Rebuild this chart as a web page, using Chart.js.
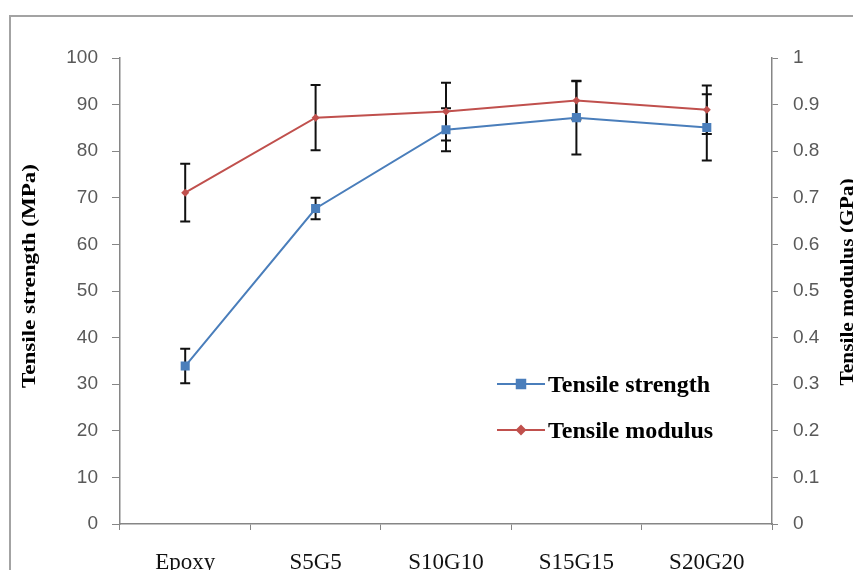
<!DOCTYPE html>
<html>
<head>
<meta charset="utf-8">
<script src="https://cdn.jsdelivr.net/npm/chart.js@4.4.1/dist/chart.umd.min.js"></script>
<style>
  html, body { margin: 0; padding: 0; background: #fff; overflow: hidden; width: 853px; height: 570px; }
  #wrap { position: absolute; left: 0; top: 0; width: 900px; height: 600px; }
  #frame { position: absolute; left: 9px; top: 15px; width: 1000px; height: 1000px;
           border-left: 2px solid #a3a3a3; border-top: 2px solid #a3a3a3; pointer-events: none; }
</style>
</head>
<body>
<div id="wrap"><canvas id="c" width="900" height="600"></canvas></div>
<div id="frame"></div>
<script>
// ---- data ----
const categories = ['Epoxy', 'S5G5', 'S10G10', 'S15G15', 'S20G20'];
const strength = [33.9, 67.7, 84.6, 87.2, 85.1];          // MPa
const strengthErr = [3.7, 2.3, 4.6, 7.9, 7.1];
const modulus = [0.711, 0.872, 0.885, 0.909, 0.889];      // GPa
const modulusErr = [0.062, 0.070, 0.062, 0.041, 0.052];
const leftTicks = [0, 10, 20, 30, 40, 50, 60, 70, 80, 90, 100];
const rightTickLabels = ['0', '0.1', '0.2', '0.3', '0.4', '0.5', '0.6', '0.7', '0.8', '0.9', '1'];
const seriesNames = ['Tensile strength', 'Tensile modulus'];
const axisTitles = ['Tensile strength (MPa)', 'Tensile modulus (GPa)'];

const BLUE = '#4a7ebb';
const RED = '#c0504d';
const AXIS = '#868686';

const errorBarPlugin = {
  id: 'errorBars',
  beforeDatasetsDraw(chart) {
    const ctx = chart.ctx;
    const x = chart.scales.x;
    const pairs = [
      { vals: strength, errs: strengthErr, scale: chart.scales.yS },
      { vals: modulus, errs: modulusErr, scale: chart.scales.yM }
    ];
    ctx.save();
    ctx.strokeStyle = '#111';
    ctx.lineWidth = 2;
    pairs.forEach(p => {
      p.vals.forEach((v, i) => {
        const px = x.getPixelForValue(i);
        const top = p.scale.getPixelForValue(v + p.errs[i]);
        const bot = p.scale.getPixelForValue(v - p.errs[i]);
        ctx.beginPath();
        ctx.moveTo(px, top); ctx.lineTo(px, bot);
        ctx.moveTo(px - 5, top); ctx.lineTo(px + 5, top);
        ctx.moveTo(px - 5, bot); ctx.lineTo(px + 5, bot);
        ctx.stroke();
      });
    });
    ctx.restore();
  }
};

function drawStretchedVertical(ctx, text, cx, cy, fontPx, targetLen) {
  ctx.save();
  ctx.font = 'bold ' + fontPx + 'px "Liberation Serif", "Times New Roman", serif';
  const w = ctx.measureText(text).width;
  ctx.translate(cx, cy);
  ctx.rotate(-Math.PI / 2);
  ctx.scale(targetLen / w, 1);
  ctx.fillStyle = '#000';
  ctx.textAlign = 'center';
  ctx.textBaseline = 'middle';
  ctx.fillText(text, 0, 0);
  ctx.restore();
}

const decorPlugin = {
  id: 'decor',
  afterDraw(chart) {
    const ctx = chart.ctx;
    // axis titles (both read bottom-to-top)
    drawStretchedVertical(ctx, axisTitles[0], 30, 276, 18, 224);
    drawStretchedVertical(ctx, axisTitles[1], 848, 282, 18, 207);
    // legend
    const rows = [
      { name: seriesNames[0], color: BLUE, style: 'rect', r: 6, y: 384 },
      { name: seriesNames[1], color: RED, style: 'rectRot', r: 4, y: 430 }
    ];
    rows.forEach(row => {
      ctx.save();
      ctx.strokeStyle = row.color;
      ctx.lineWidth = 2;
      ctx.beginPath();
      ctx.moveTo(497, row.y); ctx.lineTo(545, row.y);
      ctx.stroke();
      ctx.fillStyle = row.color;
      Chart.helpers.drawPoint(ctx, { pointStyle: row.style, radius: row.r, rotation: 0, borderWidth: 1 }, 521, row.y);
      ctx.fill();
      ctx.fillStyle = '#000';
      ctx.font = 'bold 24px "Liberation Serif", "Times New Roman", serif';
      ctx.textAlign = 'left';
      ctx.textBaseline = 'middle';
      ctx.fillText(row.name, 548, row.y + 2);
      ctx.restore();
    });
  }
};

new Chart(document.getElementById('c'), {
  type: 'line',
  data: {
    labels: categories,
    datasets: [
      {
        label: seriesNames[0], data: strength, yAxisID: 'yS',
        borderColor: BLUE, backgroundColor: BLUE, borderWidth: 2,
        pointStyle: 'rect', pointRadius: 6.4, pointBorderWidth: 0, tension: 0
      },
      {
        label: seriesNames[1], data: modulus, yAxisID: 'yM',
        borderColor: RED, backgroundColor: RED, borderWidth: 2,
        pointStyle: 'rectRot', pointRadius: 4, pointBorderWidth: 0, tension: 0
      }
    ]
  },
  options: {
    responsive: false,
    animation: false,
    layout: { padding: { top: 58, left: 0, right: 0, bottom: 0 } },
    plugins: { legend: { display: false }, tooltip: { enabled: false } },
    scales: {
      x: {
        type: 'category', offset: true,
        grid: { display: true, offset: true, drawOnChartArea: false, tickLength: 6, color: AXIS, lineWidth: 1 },
        border: { display: true, color: AXIS, width: 1.5 },
        ticks: { color: '#111', padding: 19, font: { family: '"Liberation Serif", "Times New Roman", serif', size: 23 }, maxRotation: 0, autoSkip: false },
        afterFit(s) { s.height = 76; }
      },
      yS: {
        type: 'linear', position: 'left', min: 0, max: 100,
        afterBuildTicks(s) { s.ticks = leftTicks.map(v => ({ value: v })); },
        grid: { display: true, drawOnChartArea: false, tickLength: 8, color: AXIS },
        border: { display: true, color: AXIS, width: 1.5 },
        ticks: { color: '#595959', padding: 14, font: { family: '"Liberation Sans", Arial, sans-serif', size: 19 } },
        afterFit(s) { s.width = 120; }
      },
      yM: {
        type: 'linear', position: 'right', min: 0, max: 1,
        afterBuildTicks(s) { s.ticks = rightTickLabels.map(t => ({ value: parseFloat(t) })); },
        grid: { display: true, drawOnChartArea: false, tickLength: 6, color: AXIS },
        border: { display: true, color: AXIS, width: 1.5 },
        ticks: { color: '#595959', padding: 15, font: { family: '"Liberation Sans", Arial, sans-serif', size: 19 },
                 callback: (v, i) => rightTickLabels[i] },
        afterFit(s) { s.width = 128; }
      }
    }
  },
  plugins: [errorBarPlugin, decorPlugin]
});
</script>
</body>
</html>
